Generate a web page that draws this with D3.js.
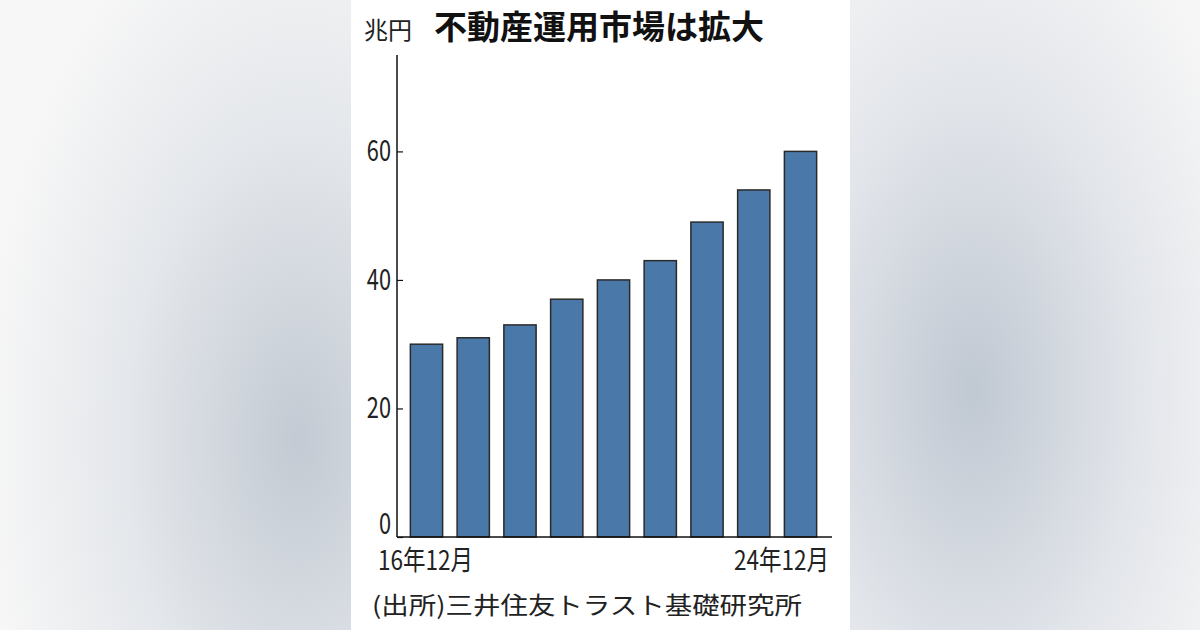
<!DOCTYPE html>
<html>
<head>
<meta charset="utf-8">
<script src="https://cdn.jsdelivr.net/npm/d3@7"></script>
<style>
  html, body { margin: 0; padding: 0; }
  body { width: 1200px; height: 630px; overflow: hidden; }
  text { font-family: "Noto Sans CJK JP", "Noto Sans", sans-serif; }
</style>
</head>
<body>
<svg id="chart" width="1200" height="630"></svg>
<script>
// data (trillion yen, December each year)
const years = ["16年12月", "17年12月", "18年12月", "19年12月", "20年12月", "21年12月", "22年12月", "23年12月", "24年12月"];
const values = [30, 31, 33, 37, 40, 43, 49, 54, 60];
const yTicks = [0, 20, 40, 60];
const shownLabels = ["16年12月", "24年12月"];

const svg = d3.select("#chart");

// blurred grey backdrop
const defs = svg.append("defs");
const bg = defs.append("radialGradient").attr("id", "bgL")
    .attr("cx", "0.85").attr("cy", "0.7").attr("r", "0.9");
bg.append("stop").attr("offset", "0").attr("stop-color", "#c3cad3");
bg.append("stop").attr("offset", "0.55").attr("stop-color", "#e4e7eb");
bg.append("stop").attr("offset", "1").attr("stop-color", "#f7f7f7");
const bgR = defs.append("radialGradient").attr("id", "bgR")
    .attr("cx", "0.35").attr("cy", "0.62").attr("r", "0.85");
bgR.append("stop").attr("offset", "0").attr("stop-color", "#c0c8d2");
bgR.append("stop").attr("offset", "0.55").attr("stop-color", "#e2e5ea");
bgR.append("stop").attr("offset", "1").attr("stop-color", "#f6f6f6");

svg.append("rect").attr("x", 0).attr("y", 0).attr("width", 351).attr("height", 630).attr("fill", "url(#bgL)");
svg.append("rect").attr("x", 850).attr("y", 0).attr("width", 350).attr("height", 630).attr("fill", "url(#bgR)");
svg.append("rect").attr("x", 351).attr("y", 0).attr("width", 499).attr("height", 630).attr("fill", "#fff");

const plotL = 397, plotR = 832, plotT = 55, plotB = 537;

const x = d3.scaleBand().domain(years).range([plotL + 4, plotR - 6]).paddingInner(0.31).paddingOuter(0.2);
const y = d3.scaleLinear().domain([0, 75]).range([plotB, plotT]);

// bars
svg.append("g")
  .selectAll("rect")
  .data(values)
  .join("rect")
    .attr("x", (d, i) => x(years[i]))
    .attr("y", d => y(d))
    .attr("width", x.bandwidth())
    .attr("height", d => plotB - y(d))
    .attr("fill", "#4a79a9")
    .attr("stroke", "#2a2a2a")
    .attr("stroke-width", 1.5);

// y axis, ticks point inward
const yAxis = svg.append("g")
    .attr("transform", `translate(${plotL},0)`)
    .call(d3.axisRight(y).tickValues(yTicks).tickSize(6).tickFormat(""));
yAxis.select(".domain").remove();
yAxis.selectAll("line").attr("stroke", "#111").attr("stroke-width", 1.2);
svg.append("line")
    .attr("x1", plotL).attr("x2", plotL).attr("y1", plotT).attr("y2", plotB)
    .attr("stroke", "#111").attr("stroke-width", 1.5);

// tick labels: narrow, centred on tick, the 0 sits on the baseline
const labX = plotL - 6;
svg.append("g")
  .selectAll("text")
  .data(yTicks)
  .join("text")
    .attr("x", labX)
    .attr("y", d => Math.min(y(d) + 10, plotB - 3))
    .attr("text-anchor", "end")
    .attr("font-size", 29)
    .attr("fill", "#222")
    .attr("transform", `translate(${labX},0) scale(0.75,1) translate(${-labX},0)`)
    .text(d => d);

// baseline
svg.append("line")
    .attr("x1", plotL).attr("x2", plotR).attr("y1", plotB).attr("y2", plotB)
    .attr("stroke", "#111").attr("stroke-width", 1.5);

// x labels, first and last only
svg.append("text")
    .attr("x", 378).attr("y", 570)
    .attr("font-size", 27).attr("fill", "#222")
    .attr("textLength", 95).attr("lengthAdjust", "spacingAndGlyphs")
    .text(shownLabels[0]);
svg.append("text")
    .attr("x", 829).attr("y", 570)
    .attr("text-anchor", "end")
    .attr("font-size", 27).attr("fill", "#222")
    .attr("textLength", 95).attr("lengthAdjust", "spacingAndGlyphs")
    .text(shownLabels[1]);

// unit and title
svg.append("text")
    .attr("x", 364).attr("y", 39)
    .attr("font-size", 24).attr("fill", "#222")
    .text("兆円");
svg.append("text")
    .attr("x", 434).attr("y", 39)
    .attr("font-size", 33).attr("font-weight", "bold").attr("fill", "#111")
    .text("不動産運用市場は拡大");

// source
svg.append("text")
    .attr("x", 372).attr("y", 614)
    .attr("font-size", 24).attr("fill", "#222")
    .attr("textLength", 430).attr("lengthAdjust", "spacingAndGlyphs")
    .text("(出所)三井住友トラスト基礎研究所");
</script>
</body>
</html>
